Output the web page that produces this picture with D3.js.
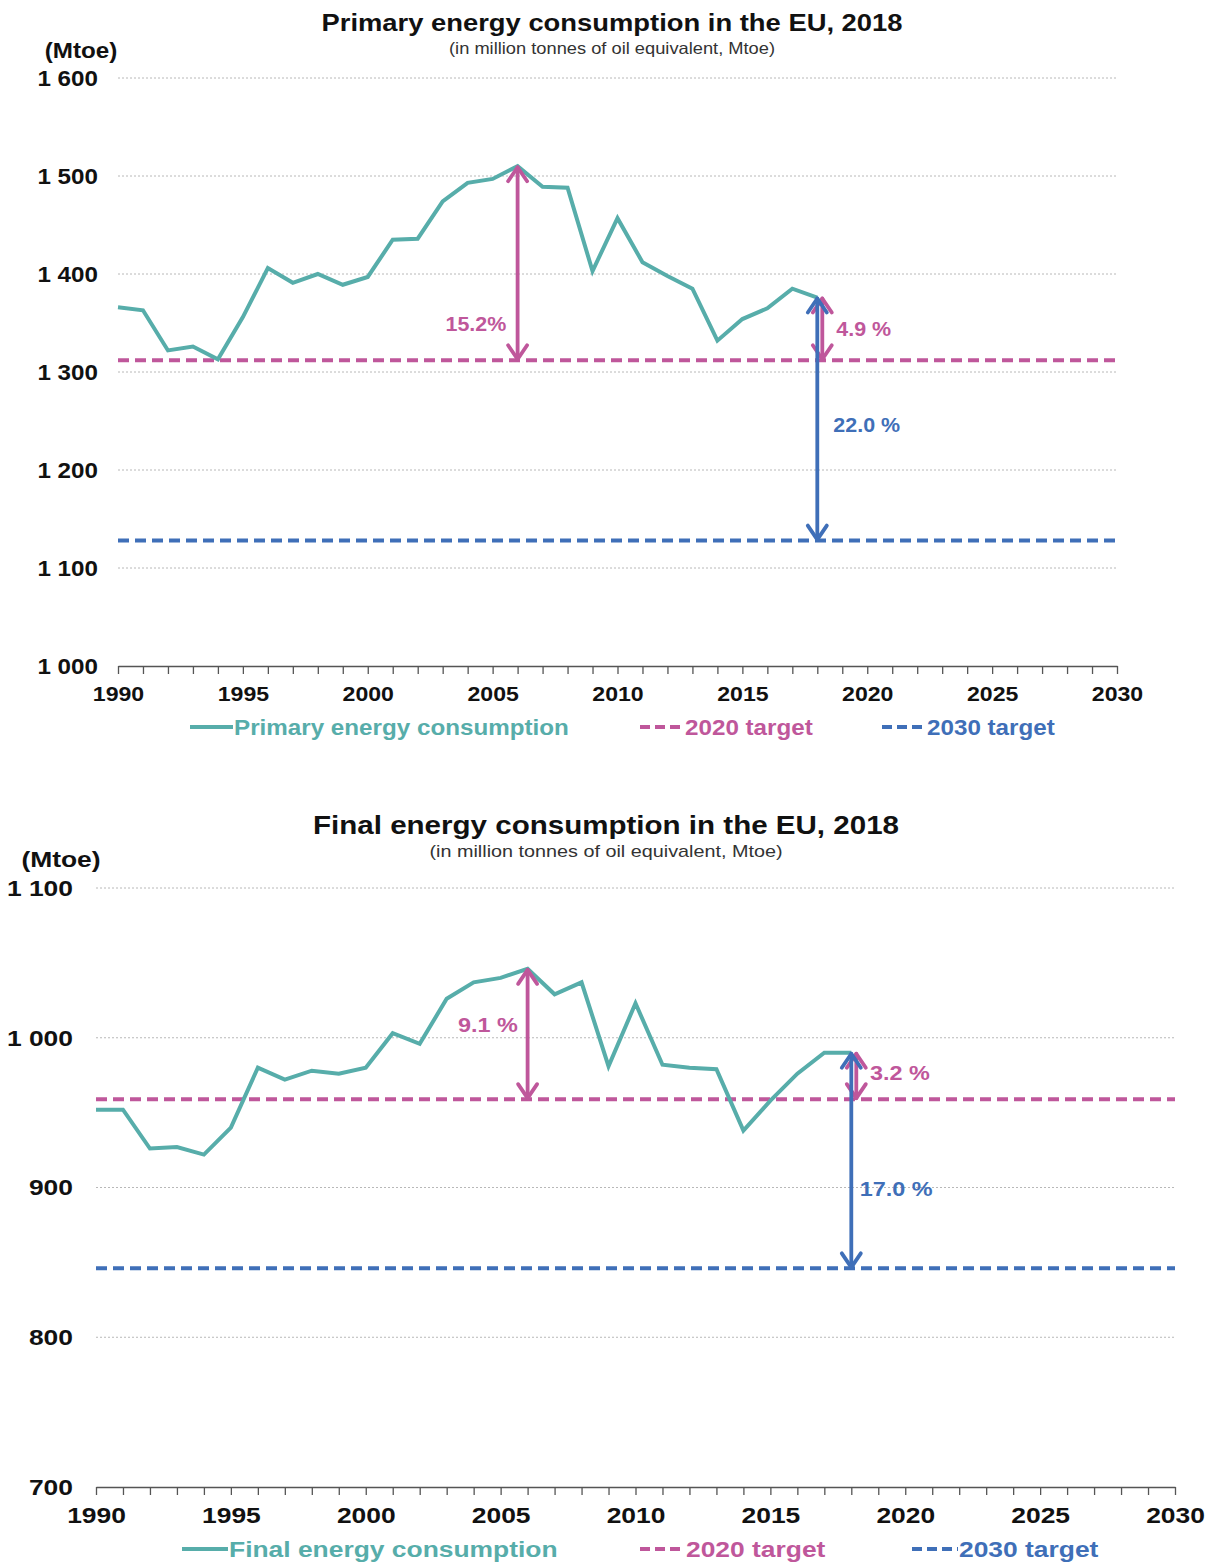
<!DOCTYPE html>
<html>
<head>
<meta charset="utf-8">
<script src="https://cdn.jsdelivr.net/npm/d3@7"></script>
<style>
  html, body { margin: 0; padding: 0; background: #fff; }
  svg { display: block; font-family: "Liberation Sans", Arial, sans-serif; }
</style>
</head>
<body>
<svg id="chart" width="1221" height="1565"></svg>
<script>
// ---------------- DATA ----------------
const years = d3.range(1990, 2019);
const primaryValues = [1366, 1363, 1322, 1326, 1313, 1356, 1406, 1391, 1400, 1389, 1397, 1435, 1436, 1474, 1493, 1497, 1510, 1489, 1488, 1403, 1457, 1412, 1398, 1385, 1332, 1354, 1365, 1385, 1376];
const finalValues = [952, 952, 926, 927, 922, 940, 980, 972, 978, 976, 980, 1003, 996, 1026, 1037, 1040, 1046, 1029, 1037, 981, 1023, 982, 980, 979, 938, 958, 976, 990, 990];
const primaryTarget2020 = 1312;
const primaryTarget2030 = 1128;
const finalTarget2020 = 959;
const finalTarget2030 = 846;
const primaryTicks = [1000, 1100, 1200, 1300, 1400, 1500, 1600];
const primaryTickLabels = ["1 000", "1 100", "1 200", "1 300", "1 400", "1 500", "1 600"];
const finalTicks = [700, 800, 900, 1000, 1100];
const finalTickLabels = ["700", "800", "900", "1 000", "1 100"];
const yearTicks = d3.range(1990, 2031);
const primaryAnnotations = [
  { year: 2006, from: 1510, to: 1312, kind: "t2020", label: "15.2%", labelYear: 2004.33, labelValue: 1349 },
  { year: 2018, from: 1376, to: 1312, kind: "t2020", label: "4.9 %", labelYear: 2019.86, labelValue: 1344 },
  { year: 2018, from: 1376, to: 1128, kind: "t2030", label: "22.0 %", labelYear: 2019.98, labelValue: 1246 }
];
const finalAnnotations = [
  { year: 2006, from: 1046, to: 959, kind: "t2020", label: "9.1 %", labelYear: 2004.53, labelValue: 1008.5 },
  { year: 2018, from: 990, to: 959, kind: "t2020", label: "3.2 %", labelYear: 2019.8, labelValue: 976.4 },
  { year: 2018, from: 990, to: 846, kind: "t2030", label: "17.0 %", labelYear: 2019.66, labelValue: 899 }
];

// ---------------- STYLE ----------------
const TEAL = "#57adaa", PINK = "#bf579b", BLUE = "#3f6fb8";
const svg = d3.select("#chart");

// horizontally widen text (the reference glyphs are slightly stretched)
function widen(sel, factor) {
  sel.each(function () {
    const w = this.getComputedTextLength();
    if (w > 0) d3.select(this).attr("textLength", w * factor).attr("lengthAdjust", "spacingAndGlyphs");
  });
}
function fitWidth(sel, width) {
  sel.attr("textLength", width).attr("lengthAdjust", "spacingAndGlyphs");
}

function drawChart(cfg) {
  const g = svg.append("g");
  const k = cfg.stretch;
  const x = d3.scaleLinear().domain([1990, 2030]).range([cfg.left, cfg.right]);
  const y = d3.scaleLinear().domain([cfg.ticks[0], cfg.ticks[cfg.ticks.length - 1]]).range([cfg.bottom, cfg.top]);

  // title
  fitWidth(g.append("text").attr("x", cfg.titleX).attr("y", cfg.titleY)
    .attr("text-anchor", "middle").attr("font-size", cfg.titleSize).attr("font-weight", "bold").attr("fill", "#111")
    .text(cfg.title), cfg.titleW);
  fitWidth(g.append("text").attr("x", cfg.titleX).attr("y", cfg.titleY + cfg.subGap)
    .attr("text-anchor", "middle").attr("font-size", cfg.subSize).attr("fill", "#333")
    .text("(in million tonnes  of oil equivalent,  Mtoe)"), cfg.subW);
  widen(g.append("text").attr("x", cfg.unitX).attr("y", cfg.unitY)
    .attr("text-anchor", "middle").attr("font-size", 22).attr("font-weight", "bold").attr("fill", "#111")
    .attr("dy", "0.35em").text("(Mtoe)"), k);

  // grid
  g.append("g").selectAll("line").data(cfg.ticks.slice(1)).join("line")
    .attr("x1", cfg.left).attr("x2", cfg.right)
    .attr("y1", d => y(d)).attr("y2", d => y(d))
    .attr("stroke", "#b8b8b8").attr("stroke-width", 1).attr("stroke-dasharray", "2,2");

  // y labels
  widen(g.append("g").selectAll("text").data(cfg.ticks).join("text")
    .attr("x", cfg.yLabelX).attr("y", d => y(d)).attr("dy", "0.36em")
    .attr("text-anchor", "end").attr("font-size", 22).attr("font-weight", "bold").attr("fill", "#111")
    .text((d, i) => cfg.tickLabels[i]), k);

  // x axis
  const axis = d3.axisBottom(x).tickValues(yearTicks).tickSize(8).tickSizeOuter(0).tickPadding(12)
    .tickFormat(d => d % 5 === 0 ? d : "");
  const ax = g.append("g").attr("transform", `translate(0,${cfg.bottom})`).call(axis);
  ax.select(".domain").attr("stroke", "#555").attr("stroke-width", 1.6);
  ax.selectAll(".tick line").attr("stroke", "#555").attr("stroke-width", 1.3);
  const tt = ax.selectAll(".tick text").attr("font-size", cfg.xLabelSize).attr("font-weight", "bold").attr("fill", "#111")
    .attr("font-family", "Liberation Sans, Arial, sans-serif");
  widen(tt.filter(function () { return this.textContent !== ""; }), k);

  // target lines
  [[cfg.t2020, PINK], [cfg.t2030, BLUE]].forEach(([v, c]) => {
    g.append("line").attr("x1", cfg.left).attr("x2", cfg.right)
      .attr("y1", y(v)).attr("y2", y(v))
      .attr("stroke", c).attr("stroke-width", 4).attr("stroke-dasharray", "11,6");
  });

  // consumption line
  const line = d3.line().x((d, i) => x(years[i])).y(d => y(d));
  g.append("path").datum(cfg.values).attr("d", line)
    .attr("fill", "none").attr("stroke", TEAL).attr("stroke-width", 4);

  // arrows
  cfg.annotations.forEach(a => {
    const c = a.kind === "t2020" ? PINK : BLUE;
    const off = (a.kind === "t2020" && a.year === 2018) ? 5 : 0;
    const xx = x(a.year) + off;
    const y1 = y(a.from), y2 = y(a.to);
    const ag = g.append("g").attr("stroke", c).attr("stroke-width", 3.8).attr("fill", "none")
      .attr("stroke-linecap", "round").attr("stroke-linejoin", "round");
    ag.append("line").attr("x1", xx).attr("x2", xx).attr("y1", y1 + 1).attr("y2", y2 - 1);
    const hw = 9.5, hl = 15;
    ag.append("path").attr("d", `M${xx - hw},${y1 + hl} L${xx},${y1 + 1} L${xx + hw},${y1 + hl}`);
    ag.append("path").attr("d", `M${xx - hw},${y2 - hl} L${xx},${y2 - 1} L${xx + hw},${y2 - hl}`);
    widen(g.append("text").attr("x", x(a.labelYear)).attr("y", y(a.labelValue)).attr("dy", "0.36em")
      .attr("text-anchor", "middle").attr("font-size", 19.5).attr("font-weight", "bold").attr("fill", c)
      .text(a.label), k);
  });

  // legend
  const ly = cfg.legendY;
  const leg = g.append("g");
  const L = cfg.legend;
  leg.append("line").attr("x1", L[0][0]).attr("x2", L[0][1]).attr("y1", ly).attr("y2", ly)
    .attr("stroke", TEAL).attr("stroke-width", 4);
  widen(leg.append("text").attr("x", L[0][1] + 1).attr("y", ly).attr("dy", "0.36em")
    .attr("font-size", 22).attr("font-weight", "bold").attr("fill", TEAL).text(cfg.seriesName), k);
  [[L[1], PINK, "2020 target"], [L[2], BLUE, "2030 target"]].forEach(([p, c, t]) => {
    leg.append("line").attr("x1", p[0]).attr("x2", p[1]).attr("y1", ly).attr("y2", ly)
      .attr("stroke", c).attr("stroke-width", 4).attr("stroke-dasharray", "10,5");
    widen(leg.append("text").attr("x", p[1] + 1).attr("y", ly).attr("dy", "0.36em")
      .attr("font-size", 22).attr("font-weight", "bold").attr("fill", c).text(t), k);
  });
}

drawChart({
  title: "Primary energy consumption in the EU, 2018", titleX: 612, titleY: 31, titleSize: 24.5, titleW: 581,
  subSize: 16.5, subW: 326, subGap: 23,
  unitX: 81, unitY: 50, stretch: 1.1, xLabelSize: 21,
  left: 118, right: 1117, top: 78, bottom: 666, yLabelX: 98,
  ticks: primaryTicks, tickLabels: primaryTickLabels,
  values: primaryValues, t2020: primaryTarget2020, t2030: primaryTarget2030,
  annotations: primaryAnnotations, seriesName: "Primary energy consumption",
  legendY: 727, legend: [[190, 233], [640, 684], [882, 926]]
});
drawChart({
  title: "Final energy consumption in the EU, 2018", titleX: 606, titleY: 834, titleSize: 25.5, titleW: 586,
  subSize: 17, subW: 353, subGap: 23,
  unitX: 61, unitY: 859, stretch: 1.2, xLabelSize: 22,
  left: 96, right: 1175, top: 888, bottom: 1487, yLabelX: 73,
  ticks: finalTicks, tickLabels: finalTickLabels,
  values: finalValues, t2020: finalTarget2020, t2030: finalTarget2030,
  annotations: finalAnnotations, seriesName: "Final energy consumption",
  legendY: 1549, legend: [[182, 228], [640, 685], [912, 958]]
});
</script>
</body>
</html>
